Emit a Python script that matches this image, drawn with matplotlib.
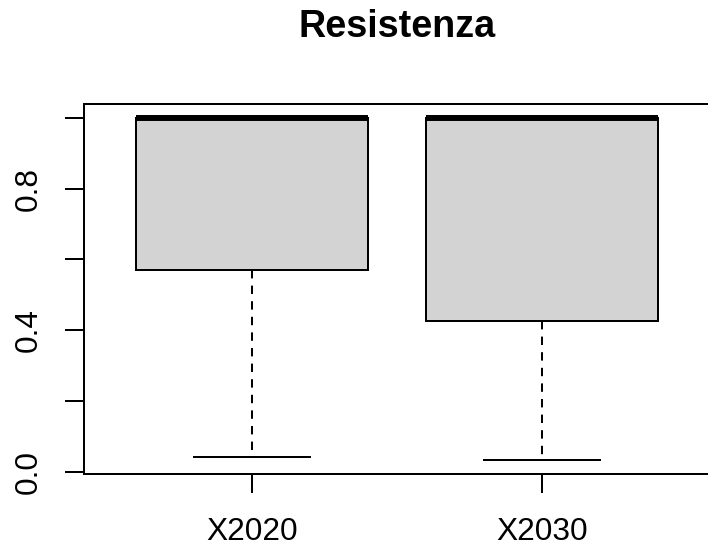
import matplotlib
matplotlib.use("Agg")
import matplotlib.pyplot as plt

# data
categories = ["X2020", "X2030"]
medians = [1.0, 1.0]
q1 = [0.571, 0.425]
q3 = [1.0, 1.0]
whislo = [0.042, 0.033]
whishi = [1.0, 1.0]
title = "Resistenza"
yticks = [0.0, 0.2, 0.4, 0.6, 0.8, 1.0]
ytick_labels = ["0.0", "", "0.4", "", "0.8", ""]

plt.rcParams['font.family'] = ['Liberation Sans', 'DejaVu Sans']

W, H = 708, 547
fig = plt.figure(figsize=(W / 100, H / 100), dpi=100)
left, right, bottom, top = 84, 710.4, 474, 104
ax = fig.add_axes([left / W, 1 - bottom / H, (right - left) / W, (bottom - top) / H])

stats = []
for i, c in enumerate(categories):
    stats.append(dict(label=c, med=medians[i], q1=q1[i], q3=q3[i],
                      whislo=whislo[i], whishi=whishi[i], fliers=[]))

lw = 1.44
ax.bxp(stats, positions=range(1, len(categories) + 1), widths=0.8,
       capwidths=0.4, patch_artist=True, showfliers=False,
       boxprops=dict(facecolor='#D3D3D3', edgecolor='black', linewidth=lw),
       whiskerprops=dict(color='black', linewidth=lw, linestyle=(0, (4.2, 3.6))),
       capprops=dict(color='black', linewidth=lw),
       medianprops=dict(color='black', linewidth=4.3, solid_capstyle='butt'))

ymin = min(whislo)
ymax = max(whishi)
ext = 0.04 * (ymax - ymin)
ax.set_ylim(ymin - ext, ymax + ext)
ax.set_xlim(0.42, 2.58)

ax.set_yticks(yticks)
ax.set_yticklabels(ytick_labels)
ax.set_xticks(range(1, len(categories) + 1))
ax.set_xticklabels(categories)

for s in ax.spines.values():
    s.set_linewidth(lw)
    s.set_color('black')

ax.tick_params(axis='both', direction='out', length=13.7, width=lw, labelsize=22.8, colors='black')
ax.tick_params(axis='x', pad=17)
ax.tick_params(axis='y', pad=15, labelrotation=90)
for t in ax.get_yticklabels():
    t.set_verticalalignment('center')

cx = (left + right) / 2 / W
fig.text(cx, 1 - 37.3 / H, title, ha='center', va='baseline', fontsize=27.2, fontweight='bold')

fig.savefig("out.png", dpi=100)
